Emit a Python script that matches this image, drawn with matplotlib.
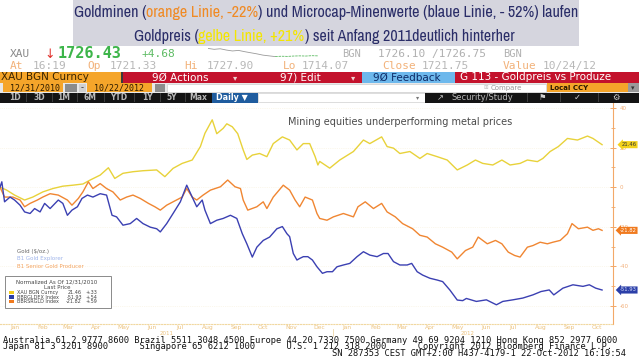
import numpy as np
import pandas as pd
import matplotlib
matplotlib.use('Agg')
import matplotlib.pyplot as plt
from matplotlib.patches import Rectangle
from matplotlib.offsetbox import TextArea, HPacker, AnnotationBbox
from matplotlib.transforms import blended_transform_factory
from matplotlib import font_manager as fm

# ---------------- data (days after 2010-12-31, % change since 12/31/2010) ----------------
gold_days = [0, 7, 16, 27, 36, 47, 58, 69, 80, 91, 99, 110, 119, 126, 135, 146, 157, 172, 181, 190,
             200, 211, 220, 225, 233, 238, 245, 249, 255, 261, 267, 271, 277, 285, 293, 300, 310, 318, 326, 333,
             340, 346, 349, 351, 362, 373, 388, 399, 406, 419, 425, 432, 439, 450, 461, 469, 480, 491, 502, 513,
             522, 530, 541, 551, 560, 571, 579, 590, 596, 604, 613, 623, 634, 645, 651, 661]
gold_vals = [0, -1.4, -4, -6.5, -5, -2.4, -0.7, 0.5, 1, 1.6, 3.6, 6.1, 9.8, 4.4, 7, 7.8, 8.3, 8.7, 5.3, 9.5,
             12, 13.7, 20.5, 27.2, 34, 27, 29.7, 32, 30.5, 27, 18.8, 14, 16.2, 17, 15.4, 22, 25.4, 23.8, 18.8, 22,
             22, 15.4, 11.2, 13, 9.6, 13.7, 18, 23.8, 22, 25.4, 20.5, 19.7, 17, 18, 14.5, 17, 15.4, 13.7, 8.7, 11.2,
             13.7, 12, 11.2, 13.7, 11.2, 12, 13.7, 12.9, 14.5, 18, 20.5, 24.6, 23.8, 25.8, 24.6, 21.46]

senior_days = [0, 5, 14, 22, 27, 33, 41, 47, 55, 64, 74, 79, 86, 91, 97, 102, 110, 117, 124, 132,
               139, 146, 154, 163, 170, 176, 183, 190, 200, 205, 211, 216, 223, 231, 242, 250, 258, 264, 267, 272,
               282, 289, 293, 300, 311, 318, 324, 329, 335, 343, 348, 351, 359, 366, 377, 388, 393, 401, 410, 419,
               425, 434, 442, 453, 461, 469, 478, 486, 496, 502, 511, 519, 525, 535, 544, 551, 558, 565, 571, 579,
               585, 593, 601, 607, 615, 623, 628, 635, 645, 651, 657, 661]
senior_vals = [0, -5, -5, -6.5, -9.9, -8.2, -6.5, -5, -3.3, -4, -6.5, -9.1, -5.7, -2.4, 2.7, -0.7, 1.8, -0.7, -2.4, -6.5,
               -5, -4, -5.7, -8.2, -9.9, -11.6, -9.1, -7.4, -5, -0.7, -5, -6.5, -4, -1.5, 0.2, 3.6, 0.2, -0.7, -6.5, -11.6,
               -9.9, -7.4, -10.8, -5, 1, -1.5, -6.5, -9.9, -5, -6.5, -13.3, -15.8, -16.7, -15, -13.3, -15, -9.9, -7.4, -10.8, -8.2,
               -12.5, -15, -18.4, -21, -24.3, -25.2, -28.6, -30.3, -32.8, -36.2, -32, -30.3, -25.2, -28.6, -26.9, -28.6, -32.8, -34.5, -35.3, -30.3,
               -29.5, -27.8, -28.6, -27.8, -26.9, -23.5, -18.4, -21, -20.2, -21.8, -21, -21.82]

explorer_days = [0, 2, 5, 11, 16, 22, 27, 33, 38, 44, 49, 55, 64, 69, 74, 79, 85, 90, 96, 102,
                 110, 117, 123, 128, 135, 143, 150, 157, 165, 172, 176, 183, 190, 198, 205, 211, 216, 222, 225, 231,
                 238, 245, 253, 260, 266, 271, 277, 282, 289, 296, 304, 310, 315, 318, 322, 326, 329, 333, 338, 343,
                 348, 354, 359, 365, 370, 377, 384, 392, 399, 406, 414, 421, 426, 432, 439, 447, 452, 458, 464, 472,
                 480, 486, 494, 502, 508, 512, 523, 534, 545, 552, 563, 574, 585, 594, 603, 608, 618, 629, 640, 647,
                 654, 661]
explorer_vals = [0, 2.7, -7.4, -5, -6.5, -9.1, -12.5, -13.3, -10.8, -12.5, -8.2, -10.8, -6.5, -8.2, -14.2, -11.6, -9.9, -5.7, -4, -5,
                 -3.3, -4, -14.2, -15, -19.2, -18.4, -15.8, -18.4, -20.2, -21, -22.6, -18.4, -13.3, -7.4, 1, -5, -9.9, -6.5, -11.6, -18.4,
                 -16.7, -15.8, -14.2, -15.8, -23.5, -28.6, -35.3, -30.3, -26.9, -25.2, -21, -19.9, -23.5, -25, -33.5, -36.8, -36, -35.1, -35.1, -36.8,
                 -40.2, -43.5, -42.7, -42.7, -40.2, -39.3, -38.5, -35.1, -32.6, -34.3, -35.1, -33.5, -33.5, -37.6, -39.3, -39.3, -38.5, -42.7, -44.4, -46,
                 -46.9, -47.7, -52, -57, -57.3, -56.2, -57.7, -56.9, -59.4, -57.7, -56.9, -56, -54.4, -52.7, -51.9, -54.4, -51, -49.3, -50.1, -49.3,
                 -51, -51.93]

legend_names = ['XAU BGN Curncy', 'BBRGLDEX Index', 'BBRSRGLD Index']
legend_last = ['21.46', '-51.93', '-21.82']
legend_chg = ['+.33', '+.54', '+.59']
last_gold, last_explorer, last_senior = 21.46, -51.93, -21.82

month_labels = ['Jan', 'Feb', 'Mar', 'Apr', 'May', 'Jun', 'Jul', 'Aug', 'Sep', 'Oct', 'Nov', 'Dec',
                'Jan', 'Feb', 'Mar', 'Apr', 'May', 'Jun', 'Jul', 'Aug', 'Sep', 'Oct']
year_labels = ['2011', '2012']
y_ticks = [-60, -40, -20, 0, 20, 40]
y_minor = [-50, -30, -10, 10, 30]

spark_grey = [1729.0, 1728.5, 1728.8, 1728.1, 1727.6, 1727.9, 1727.2, 1726.6, 1726.0, 1725.3, 1724.9, 1724.5]
spark_green = [1724.5, 1724.7, 1724.6, 1724.8, 1724.9, 1724.8, 1725.0, 1724.9]

START = pd.Timestamp('2010-12-31')
END_DAY = 661

C_GOLD = '#e8d23a'
C_SEN = '#f08632'
C_EXP = '#3b40b2'
C_AX = '#f3a868'

W, H = 639, 357
fig = plt.figure(figsize=(W / 100, H / 100), dpi=100)
fig.patch.set_facecolor('white')

# ---------------- main chart ----------------
ax = fig.add_axes([0, 33 / H, 613 / W, 221 / H])
ax.set_facecolor('white')
ax.plot(gold_days, gold_vals, color=C_GOLD, lw=1.0, solid_joinstyle='round')
ax.plot(senior_days, senior_vals, color=C_SEN, lw=1.0, solid_joinstyle='round')
ax.plot(explorer_days, explorer_vals, color=C_EXP, lw=1.0, solid_joinstyle='round')
ax.set_xlim(0, 673)
ax.set_ylim(-69.1, 42.5)

for s in ['left', 'top']:
    ax.spines[s].set_visible(False)
ax.spines['right'].set_color(C_AX)
ax.spines['right'].set_linewidth(0.8)
ax.spines['bottom'].set_color('#f1d8a0')
ax.spines['bottom'].set_linestyle((0, (1, 1.5)))
ax.spines['bottom'].set_linewidth(0.8)

ax.yaxis.tick_right()
ax.set_yticks(y_ticks)
ax.set_yticklabels([str(t) for t in y_ticks])
ax.set_yticks(y_minor, minor=True)
ax.tick_params(axis='y', which='major', direction='inout', length=5, width=0.7,
               color=C_AX, labelcolor='#f2ae78', labelsize=4, pad=2)
ax.tick_params(axis='y', which='minor', direction='inout', length=3, width=0.6, color=C_AX)
ax.set_xticks([])
ax.grid(axis='y', which='major', color='#f7f0da', lw=0.5, ls=':')

bt = blended_transform_factory(ax.transData, ax.transAxes)
months = pd.date_range('2011-01-01', periods=len(month_labels), freq='MS')
for m, lab in zip(months, month_labels):
    d = (m + pd.Timedelta(days=15) - START).days
    ax.text(d, -0.018, lab, transform=bt, ha='center', va='center', fontsize=4.3, color='#ecc27e')
year_sep = (pd.Timestamp('2012-01-01') - START).days
ax.text(year_sep / 2, -0.043, year_labels[0], transform=bt, ha='center', va='center', fontsize=4.0, color='#ecc27e')
ax.text((year_sep + END_DAY) / 2, -0.043, year_labels[1], transform=bt, ha='center', va='center', fontsize=4.0, color='#ecc27e')
ax.plot([year_sep, year_sep], [-0.022, -0.055], transform=bt, color='#ecd6a8', lw=0.6, clip_on=False)

ax.text(288 / 613, (324 - 122) / 221, 'Mining equities underperforming metal prices', transform=ax.transAxes,
        fontsize=7, color='#4a4a4a', ha='left', va='center')

ax.text(17 / 613, (324 - 251) / 221, 'Gold ($/oz.)', transform=ax.transAxes, fontsize=4, color='#666666', va='center')
ax.text(17 / 613, (324 - 258.5) / 221, 'B1 Gold Explorer', transform=ax.transAxes, fontsize=4, color='#9fb4ea', va='center')
ax.text(17 / 613, (324 - 266.5) / 221, 'B1 Senior Gold Producer', transform=ax.transAxes, fontsize=4, color='#f4a460', va='center')

rt = blended_transform_factory(ax.transAxes, ax.transData)
for val, txt_, fc, tc in [(last_gold, '21.46', '#f2d21b', '#333333'),
                          (last_senior, '-21.82', '#f07a1e', 'white'),
                          (last_explorer, '-51.93', '#2b3fa8', '#d8defa')]:
    ax.text(636.5 / 613, val, txt_, transform=rt, fontsize=3.8, color=tc, va='center', ha='right', clip_on=False,
            zorder=10, bbox=dict(boxstyle='larrow,pad=0.2', fc=fc, ec='none'))

# ---------------- overlay (screen furniture) ----------------
ov = fig.add_axes([0, 0, 1, 1])
ov.set_xlim(0, W)
ov.set_ylim(H, 0)
ov.axis('off')
ov.patch.set_alpha(0)
ov.set_zorder(5)


def rect(x0, y0, x1, y1, fc, ec='none', lw=0.5):
    ov.add_patch(Rectangle((x0, y0), x1 - x0, y1 - y0, fc=fc, ec=ec, lw=lw))


def txt(x, y, s, **kw):
    kw.setdefault('va', 'center')
    kw.setdefault('ha', 'left')
    ov.text(x, y, s, **kw)


MONO = 'DejaVu Sans Mono'

# title band
rect(73, 0, 579, 45.5, '#d5d5de')
avail = {f.name for f in fm.fontManager.ttflist}
narrow = None
for cand in ['Archivo Narrow', 'Barlow Semi Condensed', 'Asap Condensed', 'Barlow Condensed', 'Liberation Sans Narrow']:
    if cand in avail:
        narrow = cand
        break
TFAM = narrow if narrow else 'DejaVu Sans'
NAVY = '#2a2d68'
title1 = [('Goldminen (', NAVY), ('orange Linie, -22%', '#f08a24'),
          (') und Microcap-Minenwerte (blaue Linie, - 52%) laufen', NAVY)]
title2 = [('Goldpreis (', NAVY), ('gelbe Linie, +21%', '#f4e600'),
          (') seit Anfang 2011deutlich hinterher', NAVY)]


def make_line(parts, cx, cy, size):
    areas = [TextArea(t, textprops=dict(color=c, fontsize=size, fontweight='bold', family=TFAM)) for t, c in parts]
    box = HPacker(children=areas, align='baseline', pad=0, sep=0)
    ab = AnnotationBbox(box, (cx, H - cy), xycoords='figure pixels', box_alignment=(0.5, 0.5),
                        frameon=False, pad=0, annotation_clip=False)
    ab.set_zorder(20)
    fig.add_artist(ab)
    return ab


ab1 = make_line(title1, 326, 13, 10)
ab2 = make_line(title2, 324, 36.5, 10)
fig.canvas.draw()
r = fig.canvas.get_renderer()
w1 = ab1.get_window_extent(r).width
w2 = ab2.get_window_extent(r).width
ab1.remove()
ab2.remove()
make_line(title1, 326, 13, 10 * 506 / w1)
make_line(title2, 324, 36.5, 10 * 382 / w2)

# row 1
txt(10, 54, 'XAU', family=MONO, fontsize=8, color='#8a8a8a')
txt(44, 54, '↓', fontsize=9, color='#e0302a')
txt(58, 54, '1726.43', family=MONO, fontsize=11, fontweight='bold', color='#3db54a')
txt(142, 54, '+4.68', family=MONO, fontsize=8, color='#5dbb63')
txt(342, 54, 'BGN', family=MONO, fontsize=7.5, color='#b0b0b0')
txt(378, 54, '1726.10 /1726.75', family=MONO, fontsize=8, color='#b0b0b0')
txt(503, 54, 'BGN', family=MONO, fontsize=7.5, color='#b0b0b0')
sp = fig.add_axes([208 / W, (H - 57) / H, 110 / W, 9 / H])
sp.axis('off')
n1 = len(spark_grey)
sp.plot(range(n1), spark_grey, color='#9a9a9a', lw=0.6)
sp.plot(range(n1 - 1, n1 - 1 + len(spark_green)), spark_green, color='#5dbb63', lw=0.6, ls=(0, (3, 1)))
sp.set_xlim(0, n1 + len(spark_green) - 2)

# row 2
lab_c, val_c = '#f2b27a', '#b8b8b8'
for x, s, c in [(10, 'At', lab_c), (33, '16:19', val_c), (87, 'Op', lab_c), (110, '1721.33', val_c),
                (184, 'Hi', lab_c), (207, '1727.90', val_c), (283, 'Lo', lab_c), (302, '1714.07', val_c),
                (382, 'Close', lab_c), (422, '1721.75', val_c), (503, 'Value', lab_c), (543, '10/24/12', val_c)]:
    txt(x, 66, s, family=MONO, fontsize=8, color=c)

# row 3
rect(0, 72, 121, 82.5, '#f5a52a')
txt(1, 77.3, 'XAU BGN Curncy', fontsize=7.5, color='#3a2400')
rect(121, 72, 123, 82.5, '#3a3a3a')
rect(123, 72, 362, 82.5, '#c3122c')
txt(152, 77.3, '9Ø Actions', fontsize=7.5, color='white')
txt(233, 77.5, '▾', fontsize=6, color='#f0d0d0')
txt(280, 77.3, '97) Edit', fontsize=7.5, color='white')
txt(351, 77.5, '▾', fontsize=6, color='#f0d0d0')
rect(362, 72, 455, 82.5, '#6db8ec')
txt(373, 77.3, '9Ø Feedback', fontsize=7.5, color='#0d2a66')
rect(455, 72, 639, 82.5, '#c3122c')
txt(460, 77.3, 'G 113 - Goldpreis vs Produze', fontsize=7.5, color='white')

# row 4
rect(0, 82.5, 639, 92.5, '#e8e8e8')
rect(3, 83.2, 63, 92, '#f5a52a')
txt(10, 87.8, '12/31/2010', family=MONO, fontsize=6, color='#2a1a00')
rect(65, 84, 77, 91.5, '#8c8c8c')
rect(79, 84, 86, 91.5, '#d0d0d0')
txt(80.5, 87.8, '-', fontsize=6, color='#333333')
rect(87, 83.2, 152, 92, '#f5a52a')
txt(94, 87.8, '10/22/2012', family=MONO, fontsize=6, color='#2a1a00')
rect(155, 84, 165, 91.5, '#8c8c8c')
rect(167, 83.5, 546, 92, 'white', ec='#cfcfcf')
txt(484, 87.8, '⊞', fontsize=4, color='#c0c0c0')
txt(491, 87.8, 'Compare', fontsize=5, color='#9a9a9a')
rect(547, 83.2, 628, 92, '#f5a52a')
txt(550, 87.8, 'Local CCY', fontsize=5, color='#2a1a00', fontweight='bold')
rect(628, 83.2, 639, 92, '#9a9a9a')
txt(631, 87.8, '▾', fontsize=5, color='#333333')

# row 5
rect(0, 92.5, 212, 102.5, '#141414')
for xs in [26, 52, 77, 104, 134, 160, 185]:
    rect(xs, 93, xs + 1, 102, '#3c3c3c')
for cx, s in [(15, '1D'), (39, '3D'), (64, '1M'), (90, '6M'), (119, 'YTD'), (147, '1Y'), (172, '5Y'), (198, 'Max')]:
    txt(cx, 97.8, s, ha='center', fontsize=5.5, color='#b8b8b8', fontweight='bold')
rect(212, 92.5, 258, 102.5, '#1f5c9e')
txt(216, 97.8, 'Daily ▼', fontsize=5.8, color='white', fontweight='bold')
rect(258, 93, 425, 102, 'white', ec='#cfcfcf')
txt(416, 97.8, '▾', fontsize=4.5, color='#777777')
rect(425, 92.5, 639, 102.5, '#141414')
for xs in [527, 560, 598]:
    rect(xs, 93, xs + 1, 102, '#3c3c3c')
txt(437, 97.8, '↗', fontsize=6, color='#c8c8c8')
txt(452, 97.8, 'Security/Study', fontsize=6, color='#b8b8b8')
txt(539, 97.8, '⚑', fontsize=6, color='#d0d0d0')
txt(574, 97.8, '✓', fontsize=6, color='#d0d0d0')
txt(612, 97.8, '⚙', fontsize=6, color='#d0d0d0')

# legend box
rect(5, 276, 111, 308, 'white', ec='#8a8a8a', lw=0.7)
txt(57, 282.5, 'Normalized As Of 12/31/2010', ha='center', fontsize=4.0, color='#444444')
txt(57, 287.5, 'Last Price', ha='center', fontsize=4.0, color='#444444')
for i, (nm, lv, ch, c) in enumerate(zip(legend_names, legend_last, legend_chg, ['#f2cc1a', '#2b3fa8', '#f07a1e'])):
    yy = 292.5 + i * 4.6
    rect(9, yy - 1.7, 14, yy + 1.7, c)
    txt(17, yy, nm, fontsize=3.5, color='#444444')
    txt(82, yy, lv, ha='right', fontsize=3.5, color='#444444')
    txt(97, yy, ch, ha='right', fontsize=3.5, color='#444444')

# footer
foot1 = 'Australia 61 2 9777 8600 Brazil 5511 3048 4500 Europe 44 20 7330 7500 Germany 49 69 9204 1210 Hong Kong 852 2977 6000'
foot2 = 'Japan 81 3 3201 8900      Singapore 65 6212 1000      U.S. 1 212 318 2000      Copyright 2012 Bloomberg Finance L.P.'
foot3 = 'SN 287353 CEST GMT+2:00 H437-4179-1 22-Oct-2012 16:19:54'
txt(3, 340.5, foot1, family=MONO, fontsize=6.3, color='#111111')
txt(3, 346.8, foot2, family=MONO, fontsize=6.3, color='#111111')
txt(626, 353, foot3, ha='right', family=MONO, fontsize=6.3, color='#111111')

fig.savefig('out.png', dpi=100, facecolor='white')
